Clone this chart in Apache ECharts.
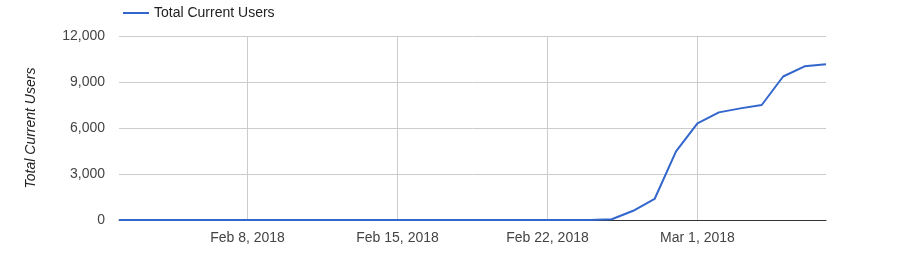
<!DOCTYPE html>
<html>
<head>
<meta charset="utf-8">
<script src="https://cdn.jsdelivr.net/npm/echarts@6/dist/echarts.min.js"></script>
<style>html,body{margin:0;padding:0;background:#fff}#c{width:913px;height:269px}</style>
</head>
<body>
<div id="c"></div>
<script>
var dates = ['2018-02-02','2018-02-03','2018-02-04','2018-02-05','2018-02-06','2018-02-07','2018-02-08',
  '2018-02-09','2018-02-10','2018-02-11','2018-02-12','2018-02-13','2018-02-14','2018-02-15',
  '2018-02-16','2018-02-17','2018-02-18','2018-02-19','2018-02-20','2018-02-21','2018-02-22',
  '2018-02-23','2018-02-24','2018-02-25','2018-02-26','2018-02-27','2018-02-28','2018-03-01',
  '2018-03-02','2018-03-03','2018-03-04','2018-03-05','2018-03-06','2018-03-07'];
var users = [0,0,0,0,0,0,0,
  0,0,0,0,0,0,0,
  0,0,0,0,0,0,0,
  0,0,50,600,1370,4470,6300,
  7020,7280,7500,9360,10020,10150];
var tickLabels = {'2018-02-08':'Feb 8, 2018','2018-02-15':'Feb 15, 2018','2018-02-22':'Feb 22, 2018','2018-03-01':'Mar 1, 2018'};
var yTicks = [0,3000,6000,9000,12000];
var seriesName = 'Total Current Users';

var font = 'Liberation Sans, Arial, sans-serif';
var chart = echarts.init(document.getElementById('c'), null, {renderer:'canvas'});
chart.setOption({
  animation:false,
  legend:{
    left:118, top:1, icon:'rect', itemWidth:26, itemHeight:2, itemGap:8,
    textStyle:{fontFamily:font,fontSize:14,color:'#222'},
    data:[seriesName]
  },
  grid:{left:119,right:87,top:36,bottom:49,containLabel:false},
  xAxis:{
    type:'category', data:dates, boundaryGap:false,
    axisLine:{show:true,lineStyle:{color:'#333',width:1}},
    axisTick:{show:false},
    axisLabel:{
      interval:function(i,v){return !!tickLabels[v];},
      formatter:function(v){return tickLabels[v]||'';},
      fontFamily:font,fontSize:14,color:'#444',margin:11
    },
    splitLine:{show:true,interval:function(i,v){return !!tickLabels[v];},lineStyle:{color:'#ccc',width:1}}
  },
  yAxis:{
    type:'value', min:yTicks[0], max:yTicks[yTicks.length-1], interval:3000,
    name:seriesName, nameLocation:'middle', nameGap:81, nameRotate:90,
    nameTextStyle:{fontFamily:font,fontSize:14,fontStyle:'italic',color:'#222'},
    axisLine:{show:false}, axisTick:{show:false},
    axisLabel:{fontFamily:font,fontSize:14,color:'#444',margin:14,
      formatter:function(v){return v.toLocaleString('en-US');}},
    splitLine:{lineStyle:{color:'#ccc',width:1}}
  },
  series:[{
    name:seriesName, type:'line', data:users, showSymbol:false, symbol:'none',
    lineStyle:{color:'#3366cc',width:2}, itemStyle:{color:'#3366cc'}
  }]
});
</script>
</body>
</html>
